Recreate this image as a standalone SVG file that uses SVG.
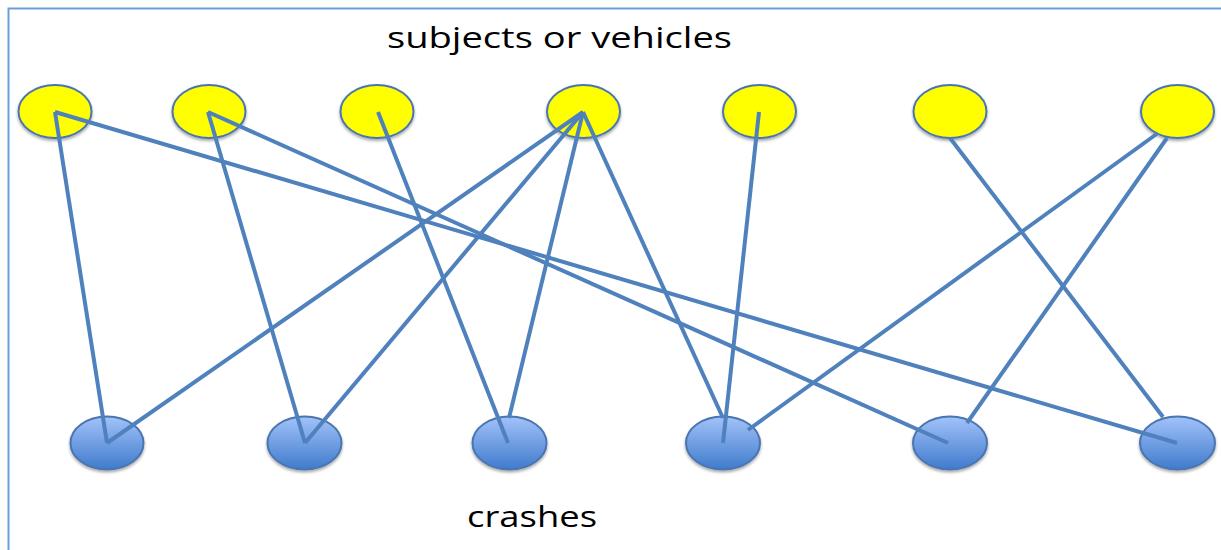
<svg xmlns="http://www.w3.org/2000/svg" width="1221" height="550" viewBox="0 0 1221 550">
<defs>
<linearGradient id="blueGrad" x1="0" y1="0" x2="0" y2="1">
<stop offset="0" stop-color="#a3c2fa"/>
<stop offset="1" stop-color="#3f7bcc"/>
</linearGradient>
<filter id="shadow" x="-20%" y="-20%" width="140%" height="150%">
<feGaussianBlur in="SourceAlpha" stdDeviation="1.5"/>
<feOffset dx="0" dy="2" result="b"/>
<feComponentTransfer><feFuncA type="linear" slope="0.35"/></feComponentTransfer>
<feMerge><feMergeNode/><feMergeNode in="SourceGraphic"/></feMerge>
</filter>
</defs>
<style>
.yellow{fill:#ffff00;stroke:#4a76b0;stroke-width:2}
.blue{fill:url(#blueGrad);stroke:#4a76b0;stroke-width:2}
.edge{stroke:#4f81bd;stroke-width:4;fill:none;stroke-linecap:butt}
.label{font-family:"Open Sans","Liberation Sans",sans-serif;font-size:30px;fill:#000}
</style>
<rect x="0" y="0" width="1221" height="550" fill="#ffffff"/>
<path d="M8.5,550 V8.5 H1221" fill="none" stroke="#6a9fdc" stroke-width="2"/>
<text class="label" x="387" y="48" textLength="345" lengthAdjust="spacingAndGlyphs">subjects or vehicles</text>
<text class="label" x="467" y="527" textLength="130" lengthAdjust="spacingAndGlyphs">crashes</text>
<g id="nodes-top">
<g id="s1"><ellipse class="yellow" filter="url(#shadow)" cx="55" cy="111.5" rx="36.5" ry="26.5"/></g>
<g id="s2"><ellipse class="yellow" filter="url(#shadow)" cx="209" cy="111.5" rx="36.5" ry="26.5"/></g>
<g id="s3"><ellipse class="yellow" filter="url(#shadow)" cx="377" cy="111.5" rx="36.5" ry="26.5"/></g>
<g id="s4"><ellipse class="yellow" filter="url(#shadow)" cx="583.5" cy="111.5" rx="36.5" ry="26.5"/></g>
<g id="s5"><ellipse class="yellow" filter="url(#shadow)" cx="759.5" cy="111.5" rx="36.5" ry="26.5"/></g>
<g id="s6"><ellipse class="yellow" filter="url(#shadow)" cx="950" cy="111.5" rx="36.5" ry="26.5"/></g>
<g id="s7"><ellipse class="yellow" filter="url(#shadow)" cx="1177.5" cy="111.5" rx="36.5" ry="26.5"/></g>
</g>
<g id="nodes-bottom">
<g id="c1"><ellipse class="blue" filter="url(#shadow)" cx="107" cy="443" rx="36.5" ry="26.5"/></g>
<g id="c2"><ellipse class="blue" filter="url(#shadow)" cx="304.5" cy="443" rx="37" ry="26.5"/></g>
<g id="c3"><ellipse class="blue" filter="url(#shadow)" cx="509.5" cy="443" rx="37" ry="26.5"/></g>
<g id="c4"><ellipse class="blue" filter="url(#shadow)" cx="723" cy="443" rx="37" ry="26.5"/></g>
<g id="c5"><ellipse class="blue" filter="url(#shadow)" cx="950" cy="443" rx="37" ry="26.5"/></g>
<g id="c6"><ellipse class="blue" filter="url(#shadow)" cx="1177.5" cy="443" rx="37.5" ry="26.5"/></g>
</g>
<g id="connectors">
<line class="edge" x1="55" y1="112" x2="107" y2="443"/>
<line class="edge" x1="55" y1="112" x2="1177" y2="443"/>
<line class="edge" x1="208" y1="112" x2="305" y2="443"/>
<line class="edge" x1="208" y1="112" x2="948" y2="443"/>
<line class="edge" x1="378" y1="112" x2="508" y2="443"/>
<line class="edge" x1="583" y1="112" x2="107" y2="443"/>
<line class="edge" x1="583" y1="112" x2="305" y2="443"/>
<line class="edge" x1="583" y1="112" x2="509" y2="418"/>
<line class="edge" x1="583" y1="112" x2="723" y2="418"/>
<line class="edge" x1="759" y1="112" x2="723" y2="443"/>
<line class="edge" x1="950" y1="138" x2="1163" y2="417"/>
<line class="edge" x1="1158" y1="133" x2="748" y2="430"/>
<line class="edge" x1="1167" y1="138" x2="967" y2="423"/>
</g>
</svg>
